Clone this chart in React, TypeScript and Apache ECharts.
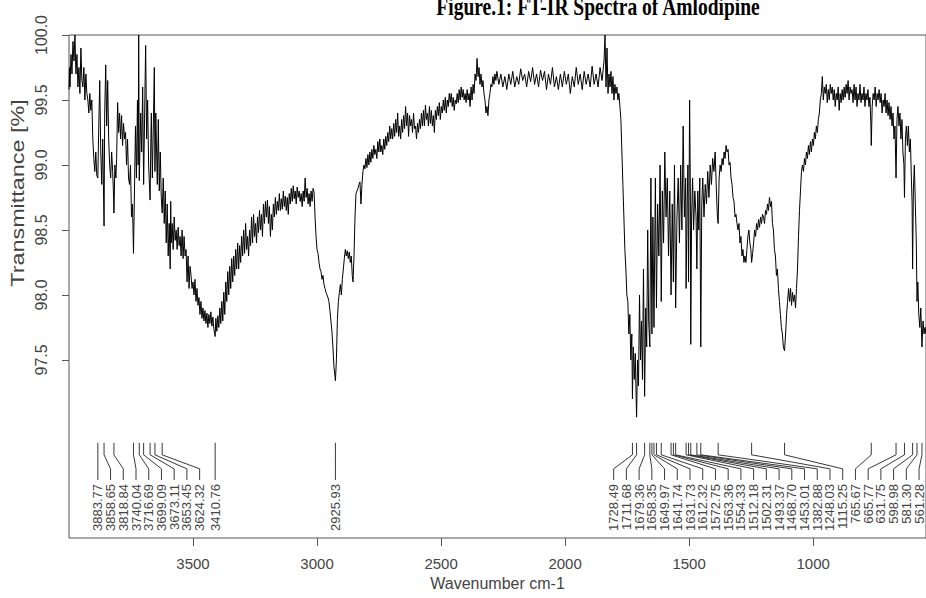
import React, { useEffect, useRef } from "react";
import * as echarts from "echarts";

// ---- data ----
const title = "Figure.1: FT-IR Spectra of Amlodipine";
const xName = "Wavenumber cm-1";
const yName = "Transmittance [%]";
const xTicks = [3500, 3000, 2500, 2000, 1500, 1000];
const yTicks = [97.5, 98.0, 98.5, 99.0, 99.5, 100.0];
const xRange = [545, 4000];
const yRange = [96.13, 100.0];

const peaks = [
  3883.77, 3858.65, 3818.84, 3740.04, 3716.69, 3699.09, 3673.11, 3653.45, 3624.32, 3410.76,
  2925.93, 1728.49, 1711.68, 1679.36, 1658.35, 1649.97, 1641.74, 1631.73, 1612.32, 1572.75,
  1563.36, 1554.33, 1512.18, 1502.31, 1493.37, 1468.7, 1453.01, 1382.88, 1248.03, 1115.25,
  765.67, 665.77, 631.75, 598.98, 581.3, 561.28,
];

const spectrum: [number, number][] = [
  [4000, 99.58], [3998, 99.75], [3996, 99.6], [3992, 99.85], [3988, 99.7], [3984, 99.95], [3980, 99.8],
  [3976, 100.0], [3972, 99.7], [3968, 99.85], [3964, 99.6], [3960, 99.75], [3956, 99.55], [3952, 99.9],
  [3948, 99.65], [3944, 99.6], [3940, 99.75], [3936, 99.5], [3932, 99.7], [3928, 99.55], [3924, 99.5],
  [3920, 99.4], [3916, 99.55], [3912, 99.42], [3908, 99.5], [3904, 99.2], [3900, 99.05], [3896, 98.95],
  [3892, 99.1], [3888, 98.92], [3883.8, 98.9], [3880, 99.3], [3876, 99.65], [3872, 99.1], [3868, 98.85],
  [3864, 99.2], [3858.7, 98.53], [3856, 99.4], [3852, 99.77], [3848, 99.3], [3844, 99.65], [3840, 99.2],
  [3836, 99.0], [3832, 98.9], [3828, 99.1], [3824, 98.95], [3821, 98.8], [3818.8, 98.63], [3815, 99.0],
  [3811, 98.9], [3808, 99.05], [3804, 99.48], [3800, 99.25], [3796, 99.4], [3792, 99.2], [3788, 99.38],
  [3784, 99.15], [3780, 99.32], [3776, 99.2], [3772, 99.25], [3768, 99.0], [3764, 99.2], [3760, 98.9],
  [3756, 98.85], [3752, 99.0], [3748, 98.6], [3744, 98.7], [3740, 98.32], [3736, 98.8], [3732, 99.3],
  [3728, 98.9], [3724, 99.5], [3721, 99.0], [3719, 100.0], [3716.7, 98.88], [3711, 99.4], [3707, 99.1],
  [3703, 99.6], [3699.1, 98.85], [3695, 99.4], [3691, 99.92], [3687, 99.2], [3683, 99.5], [3679, 99.0],
  [3673.1, 98.73], [3670, 99.2], [3668, 99.4], [3664, 98.9], [3660, 99.3], [3656, 99.75], [3653.5, 98.95],
  [3650, 99.4], [3648, 99.2], [3644, 98.85], [3640, 99.35], [3636, 98.8], [3632, 99.1], [3628, 98.75],
  [3624.3, 98.63], [3620, 98.9], [3616, 98.55], [3612, 98.8], [3608, 98.4], [3604, 98.7], [3600, 98.3],
  [3596, 98.55], [3592, 98.2], [3590, 98.72], [3588, 98.4], [3584, 98.55], [3580, 98.35], [3576, 98.6],
  [3572, 98.42], [3568, 98.5], [3564, 98.35], [3560, 98.52], [3556, 98.38], [3552, 98.45], [3548, 98.3],
  [3544, 98.5], [3540, 98.28], [3536, 98.45], [3532, 98.3], [3528, 98.35], [3524, 98.1], [3520, 98.3],
  [3516, 98.05], [3512, 98.22], [3508, 98.15], [3504, 98.05], [3500, 98.1], [3496, 98.0], [3492, 98.12],
  [3488, 97.95], [3484, 98.05], [3480, 97.92], [3476, 97.98], [3472, 97.85], [3468, 97.95], [3464, 97.82],
  [3460, 97.9], [3456, 97.8], [3452, 97.88], [3448, 97.78], [3444, 97.86], [3440, 97.75], [3436, 97.85],
  [3432, 97.78], [3428, 97.87], [3424, 97.76], [3420, 97.83], [3416, 97.74], [3410.8, 97.68], [3408, 97.82],
  [3404, 97.72], [3400, 97.84], [3396, 97.75], [3392, 97.9], [3388, 97.78], [3384, 97.95], [3380, 97.8],
  [3376, 98.02], [3372, 97.85], [3368, 98.1], [3364, 97.95], [3360, 98.18], [3356, 98.0], [3352, 98.22],
  [3348, 98.05], [3344, 98.28], [3340, 98.1], [3336, 98.3], [3332, 98.15], [3328, 98.35], [3324, 98.2],
  [3320, 98.4], [3316, 98.2], [3312, 98.38], [3308, 98.25], [3304, 98.45], [3300, 98.3], [3296, 98.5],
  [3292, 98.32], [3288, 98.55], [3284, 98.35], [3280, 98.45], [3276, 98.3], [3272, 98.5], [3268, 98.38],
  [3264, 98.6], [3260, 98.4], [3256, 98.62], [3252, 98.45], [3248, 98.55], [3244, 98.4], [3240, 98.6],
  [3236, 98.48], [3232, 98.65], [3228, 98.5], [3224, 98.62], [3220, 98.45], [3216, 98.7], [3212, 98.55],
  [3208, 98.72], [3204, 98.6], [3200, 98.73], [3196, 98.55], [3192, 98.68], [3188, 98.45], [3184, 98.62],
  [3180, 98.5], [3176, 98.7], [3172, 98.6], [3168, 98.75], [3164, 98.62], [3160, 98.72], [3156, 98.65],
  [3152, 98.78], [3148, 98.65], [3144, 98.74], [3140, 98.66], [3136, 98.8], [3132, 98.68], [3128, 98.76],
  [3124, 98.65], [3120, 98.75], [3116, 98.62], [3112, 98.78], [3108, 98.7], [3104, 98.82], [3100, 98.72],
  [3096, 98.84], [3092, 98.74], [3088, 98.8], [3084, 98.7], [3080, 98.83], [3076, 98.75], [3072, 98.8],
  [3068, 98.72], [3064, 98.78], [3060, 98.68], [3056, 98.8], [3052, 98.72], [3048, 98.9], [3044, 98.75],
  [3040, 98.82], [3036, 98.7], [3032, 98.78], [3028, 98.68], [3024, 98.8], [3020, 98.72], [3016, 98.82],
  [3012, 98.79], [3008, 98.6], [3004, 98.45], [3000, 98.35], [2996, 98.32], [2992, 98.25], [2988, 98.2],
  [2984, 98.18], [2980, 98.12], [2976, 98.15], [2972, 98.08], [2968, 98.05], [2964, 98.02], [2960, 98.0],
  [2956, 97.98], [2952, 97.95], [2948, 97.88], [2944, 97.8], [2940, 97.72], [2936, 97.6], [2932, 97.45],
  [2925.9, 97.34], [2922, 97.5], [2918, 97.81], [2914, 97.95], [2910, 98.02], [2906, 98.08], [2902, 98.0],
  [2898, 98.12], [2894, 98.2], [2890, 98.28], [2886, 98.35], [2882, 98.3], [2878, 98.34], [2874, 98.28],
  [2870, 98.33], [2866, 98.25], [2862, 98.3], [2858, 98.15], [2855, 98.1], [2851, 98.3], [2847, 98.6],
  [2843, 98.78], [2839, 98.8], [2835, 98.82], [2831, 98.85], [2827, 98.87], [2823, 98.7], [2819, 98.85],
  [2815, 98.95], [2811, 99.0], [2807, 98.97], [2803, 99.05], [2799, 98.98], [2795, 99.08], [2791, 99.0],
  [2787, 99.1], [2783, 99.02], [2779, 99.12], [2775, 99.05], [2771, 99.15], [2767, 99.08], [2763, 99.12],
  [2759, 99.05], [2755, 99.18], [2751, 99.1], [2747, 99.2], [2743, 99.1], [2739, 99.15], [2735, 99.08],
  [2731, 99.2], [2727, 99.12], [2723, 99.22], [2719, 99.15], [2715, 99.25], [2711, 99.18], [2707, 99.3],
  [2703, 99.2], [2699, 99.28], [2695, 99.2], [2691, 99.32], [2687, 99.22], [2683, 99.35], [2679, 99.25],
  [2675, 99.4], [2671, 99.22], [2667, 99.3], [2663, 99.2], [2659, 99.35], [2655, 99.25], [2651, 99.38],
  [2647, 99.28], [2643, 99.45], [2639, 99.3], [2635, 99.4], [2631, 99.22], [2627, 99.38], [2623, 99.3],
  [2619, 99.35], [2615, 99.25], [2611, 99.4], [2607, 99.28], [2603, 99.3], [2599, 99.2], [2595, 99.32],
  [2591, 99.25], [2587, 99.35], [2583, 99.28], [2579, 99.4], [2575, 99.3], [2571, 99.42], [2567, 99.3],
  [2563, 99.46], [2559, 99.35], [2555, 99.4], [2551, 99.3], [2547, 99.45], [2543, 99.32], [2539, 99.42],
  [2535, 99.3], [2531, 99.38], [2527, 99.25], [2523, 99.42], [2519, 99.35], [2515, 99.45], [2511, 99.38],
  [2507, 99.48], [2503, 99.35], [2499, 99.45], [2495, 99.4], [2491, 99.5], [2487, 99.42], [2483, 99.52],
  [2479, 99.4], [2475, 99.5], [2471, 99.45], [2467, 99.55], [2463, 99.48], [2459, 99.55], [2455, 99.45],
  [2451, 99.52], [2447, 99.42], [2443, 99.5], [2439, 99.47], [2435, 99.55], [2431, 99.48], [2427, 99.58],
  [2423, 99.5], [2419, 99.6], [2415, 99.52], [2411, 99.58], [2407, 99.5], [2403, 99.55], [2399, 99.48],
  [2395, 99.58], [2391, 99.5], [2387, 99.55], [2383, 99.45], [2379, 99.6], [2375, 99.5], [2371, 99.62],
  [2367, 99.55], [2363, 99.7], [2359, 99.65], [2355, 99.82], [2351, 99.68], [2347, 99.75], [2343, 99.62],
  [2339, 99.7], [2335, 99.6], [2331, 99.65], [2327, 99.55], [2323, 99.5], [2319, 99.4], [2315, 99.45],
  [2311, 99.38], [2307, 99.5], [2303, 99.55], [2299, 99.62], [2295, 99.6], [2291, 99.68], [2287, 99.62],
  [2283, 99.7], [2279, 99.65], [2275, 99.72], [2267, 99.62], [2259, 99.7], [2251, 99.6], [2243, 99.68],
  [2235, 99.58], [2227, 99.7], [2219, 99.62], [2211, 99.72], [2203, 99.6], [2195, 99.68], [2187, 99.62],
  [2179, 99.74], [2171, 99.65], [2163, 99.7], [2155, 99.6], [2147, 99.72], [2139, 99.64], [2131, 99.75],
  [2123, 99.62], [2115, 99.7], [2107, 99.6], [2099, 99.73], [2091, 99.65], [2083, 99.72], [2075, 99.58],
  [2067, 99.7], [2059, 99.62], [2051, 99.75], [2043, 99.6], [2035, 99.68], [2027, 99.58], [2019, 99.7],
  [2011, 99.6], [2003, 99.72], [1995, 99.62], [1987, 99.7], [1979, 99.55], [1971, 99.68], [1963, 99.6],
  [1955, 99.75], [1947, 99.62], [1939, 99.7], [1931, 99.58], [1923, 99.72], [1915, 99.62], [1907, 99.7],
  [1899, 99.6], [1891, 99.76], [1883, 99.62], [1875, 99.7], [1867, 99.6], [1859, 99.75], [1851, 99.65],
  [1843, 99.8], [1839, 100.0], [1835, 99.6], [1831, 99.9], [1827, 99.55], [1823, 99.7], [1819, 99.6],
  [1815, 99.72], [1811, 99.55], [1807, 99.68], [1803, 99.5], [1799, 99.62], [1795, 99.55], [1791, 99.6],
  [1787, 99.5], [1783, 99.55], [1779, 99.45], [1775, 99.35], [1771, 99.1], [1767, 98.85], [1763, 98.6],
  [1759, 98.35], [1755, 98.2], [1751, 98.0], [1747, 97.95], [1743, 97.7], [1739, 97.85], [1735, 97.5],
  [1731, 97.7], [1728.5, 97.2], [1725, 97.6], [1721, 97.35], [1717, 97.55], [1713, 97.15], [1711.7, 97.06],
  [1708, 97.5], [1704, 97.3], [1700, 98.0], [1696, 97.5], [1692, 97.8], [1688, 97.35], [1684, 98.2],
  [1679.4, 97.22], [1675, 97.9], [1671, 97.6], [1667, 98.5], [1663, 97.8], [1658.4, 97.6], [1654, 98.9],
  [1650, 97.7], [1646, 98.6], [1641.7, 97.75], [1636, 98.9], [1631.7, 97.9], [1627, 98.7], [1622, 98.3],
  [1617, 99.0], [1612.3, 97.95], [1608, 98.8], [1603, 98.4], [1598, 99.1], [1593, 98.6], [1588, 98.9],
  [1583, 98.3], [1578, 98.8], [1572.8, 98.0], [1568, 98.7], [1563.4, 98.1], [1559, 99.0], [1554.3, 97.9],
  [1549, 98.6], [1544, 98.9], [1539, 98.4], [1534, 99.0], [1529, 98.5], [1524, 99.3], [1519, 98.6],
  [1514, 98.9], [1512.2, 98.05], [1508, 98.7], [1505, 99.0], [1502.3, 98.1], [1498, 99.5], [1495, 98.8],
  [1493.4, 97.62], [1490, 98.6], [1486, 98.9], [1482, 98.5], [1477, 98.8], [1472, 98.6], [1468.7, 98.2],
  [1465, 98.8], [1461, 98.5], [1457, 98.9], [1453, 97.6], [1449, 98.7], [1445, 98.9], [1440, 98.6],
  [1435, 98.85], [1430, 98.7], [1425, 98.95], [1420, 98.75], [1415, 99.0], [1410, 98.85], [1405, 99.05],
  [1400, 98.95], [1395, 99.1], [1390, 98.8], [1386, 98.6], [1382.9, 98.55], [1379, 98.9], [1375, 99.0],
  [1371, 98.95], [1367, 99.05], [1363, 99.0], [1359, 99.1], [1355, 99.05], [1351, 99.15], [1347, 99.1],
  [1343, 99.12], [1339, 99.0], [1335, 99.02], [1331, 98.9], [1327, 98.85], [1323, 98.75], [1319, 98.72],
  [1315, 98.6], [1311, 98.62], [1307, 98.55], [1303, 98.5], [1299, 98.55], [1295, 98.4], [1291, 98.45],
  [1287, 98.3], [1283, 98.35], [1279, 98.25], [1275, 98.3], [1271, 98.25], [1267, 98.35], [1263, 98.45],
  [1259, 98.5], [1255, 98.4], [1251, 98.35], [1248, 98.25], [1244, 98.32], [1240, 98.4], [1236, 98.5],
  [1232, 98.45], [1228, 98.55], [1224, 98.5], [1220, 98.58], [1216, 98.52], [1212, 98.6], [1208, 98.55],
  [1204, 98.62], [1200, 98.6], [1196, 98.55], [1192, 98.65], [1188, 98.62], [1184, 98.7], [1180, 98.65],
  [1176, 98.75], [1172, 98.68], [1168, 98.72], [1164, 98.55], [1160, 98.5], [1156, 98.35], [1152, 98.3],
  [1148, 98.15], [1144, 98.2], [1140, 98.05], [1136, 97.95], [1132, 97.85], [1128, 97.75], [1124, 97.7],
  [1120, 97.6], [1115.3, 97.57], [1111, 97.7], [1107, 97.85], [1103, 97.95], [1099, 98.05], [1095, 97.95],
  [1091, 98.05], [1087, 97.92], [1083, 98.02], [1079, 97.95], [1075, 98.0], [1071, 97.9], [1067, 98.05],
  [1063, 98.2], [1059, 98.45], [1055, 98.65], [1051, 98.8], [1047, 98.95], [1043, 99.0], [1039, 98.95],
  [1035, 99.05], [1031, 99.0], [1027, 99.1], [1023, 99.05], [1019, 99.15], [1015, 99.08], [1011, 99.18],
  [1007, 99.1], [1003, 99.2], [999, 99.15], [995, 99.25], [991, 99.2], [987, 99.3], [983, 99.25],
  [979, 99.35], [975, 99.4], [971, 99.5], [967, 99.55], [963, 99.68], [959, 99.5], [955, 99.6],
  [951, 99.55], [947, 99.62], [943, 99.48], [939, 99.58], [935, 99.5], [931, 99.62], [927, 99.55],
  [923, 99.6], [919, 99.5], [915, 99.58], [911, 99.45], [907, 99.55], [903, 99.5], [899, 99.6],
  [895, 99.42], [891, 99.55], [887, 99.48], [883, 99.58], [879, 99.5], [875, 99.6], [871, 99.52],
  [867, 99.62], [863, 99.55], [859, 99.65], [855, 99.5], [851, 99.6], [847, 99.55], [843, 99.58],
  [839, 99.48], [835, 99.62], [831, 99.5], [827, 99.6], [823, 99.45], [819, 99.55], [815, 99.5],
  [811, 99.62], [807, 99.48], [803, 99.55], [799, 99.5], [795, 99.6], [791, 99.45], [787, 99.55],
  [783, 99.5], [779, 99.58], [775, 99.45], [771, 99.52], [767, 99.3], [765.7, 99.15], [762, 99.45],
  [758, 99.55], [754, 99.5], [750, 99.6], [746, 99.45], [742, 99.55], [738, 99.5], [734, 99.58],
  [730, 99.48], [726, 99.55], [722, 99.4], [718, 99.5], [714, 99.45], [710, 99.55], [706, 99.4],
  [702, 99.5], [698, 99.38], [694, 99.48], [690, 99.35], [686, 99.45], [682, 99.3], [678, 99.4],
  [674, 99.2], [670, 99.3], [665.8, 98.9], [662, 99.35], [658, 99.45], [654, 99.3], [650, 99.4],
  [646, 99.2], [642, 99.35], [638, 99.1], [634, 99.0], [631.8, 98.75], [628, 99.2], [624, 99.3],
  [620, 99.15], [616, 99.3], [612, 99.1], [608, 99.2], [604, 98.9], [601, 98.7], [599, 98.2],
  [596, 98.8], [592, 99.0], [588, 98.7], [584, 98.4], [581.3, 97.95], [578, 98.1], [574, 97.85],
  [570, 97.75], [566, 97.9], [561.3, 97.6], [557, 97.8], [553, 97.7], [549, 97.75], [545, 97.7],
];

// label layout constants (layout, not data)
const LABEL_STEP = 51.3; // wavenumber units between neighbouring labels
const LABEL_MIN_W = 573;
const Y_TOP = 96.862;
const Y_B1 = 96.77;
const Y_B2 = 96.662;
const Y_BOT = 96.577;
const Y_TEXT = 96.546;

function layoutLabels(ps: number[]): number[] {
  const out = ps.slice();
  for (let i = 1; i < out.length; i++) out[i] = Math.min(ps[i], out[i - 1] - LABEL_STEP);
  out[out.length - 1] = Math.max(out[out.length - 1], LABEL_MIN_W);
  for (let i = out.length - 2; i >= 0; i--) out[i] = Math.max(out[i], out[i + 1] + LABEL_STEP);
  return out;
}

const FONT = "'Liberation Sans', Arial, sans-serif";

export default function App() {
  const ref = useRef<HTMLDivElement>(null);
  useEffect(() => {
    if (!ref.current) return;
    const chart = echarts.init(ref.current, undefined, { renderer: "svg" });
    const labelPos = layoutLabels(peaks);
    chart.setOption({
      animation: false,
      backgroundColor: "#ffffff",
      grid: {
        left: 69,
        top: 35,
        width: 866,
        height: 503,
        show: true,
        borderColor: "#555",
        borderWidth: 1,
        backgroundColor: "transparent",
      },
      xAxis: {
        type: "value",
        min: xRange[0],
        max: xRange[1],
        inverse: true,
        name: xName,
        nameLocation: "middle",
        nameGap: 34,
        nameTextStyle: { fontFamily: FONT, fontSize: 16, color: "#444" },
        axisLine: { show: false },
        splitLine: { show: false },
        axisTick: { show: true, length: 8, customValues: xTicks, lineStyle: { color: "#555" } },
        axisLabel: {
          customValues: xTicks,
          margin: 18,
          fontFamily: FONT,
          fontSize: 15,
          color: "#444",
          formatter: (v: number) => String(v),
        },
      },
      yAxis: {
        type: "value",
        min: yRange[0],
        max: yRange[1],
        axisLine: { show: false },
        splitLine: { show: false },
        axisTick: { show: true, length: 7, customValues: yTicks, lineStyle: { color: "#555" } },
        axisLabel: {
          customValues: yTicks,
          rotate: 90,
          margin: 20,
          fontFamily: FONT,
          fontSize: 16,
          color: "#444",
          formatter: (v: number) => v.toFixed(1),
        },
      },
      graphic: [
        {
          type: "text",
          x: 598,
          y: 7,
          scaleY: 1.3,
          style: {
            text: title,
            fontFamily: "'Liberation Serif', 'Times New Roman', serif",
            fontWeight: "bold",
            fontSize: 19.5,
            fill: "#000",
            align: "center",
            verticalAlign: "middle",
          },
        },
        {
          type: "text",
          x: 18,
          y: 193,
          rotation: Math.PI / 2,
          scaleX: 1.3,
          style: {
            text: yName,
            fontFamily: FONT,
            fontSize: 18,
            fill: "#444",
            align: "center",
            verticalAlign: "middle",
          },
        },
      ],
      series: [
        {
          type: "line",
          data: spectrum,
          showSymbol: false,
          symbol: "none",
          lineStyle: { color: "#000", width: 1 },
          silent: true,
        },
        {
          type: "custom",
          silent: true,
          data: peaks.map((p, i) => [p, labelPos[i]]),
          renderItem: (params: any, api: any) => {
            const p = api.value(0);
            const l = api.value(1);
            const top = api.coord([p, Y_TOP]);
            const b1 = api.coord([p, Y_B1]);
            const b2 = api.coord([l, Y_B2]);
            const bot = api.coord([l, Y_BOT]);
            const t = api.coord([l, Y_TEXT]);
            return {
              type: "group",
              children: [
                {
                  type: "polyline",
                  shape: { points: [top, b1, b2, bot] },
                  style: { stroke: "#222", lineWidth: 0.9, fill: null },
                },
                {
                  type: "text",
                  x: t[0],
                  y: t[1],
                  rotation: Math.PI / 2,
                  style: {
                    text: p.toFixed(2),
                    fontFamily: FONT,
                    fontSize: 13,
                    fill: "#444",
                    align: "right",
                    verticalAlign: "middle",
                  },
                },
              ],
            };
          },
        },
      ],
    });
    return () => chart.dispose();
  }, []);
  return <div ref={ref} style={{ position: "absolute", left: 0, top: 0, width: 926, height: 598 }} />;
}
